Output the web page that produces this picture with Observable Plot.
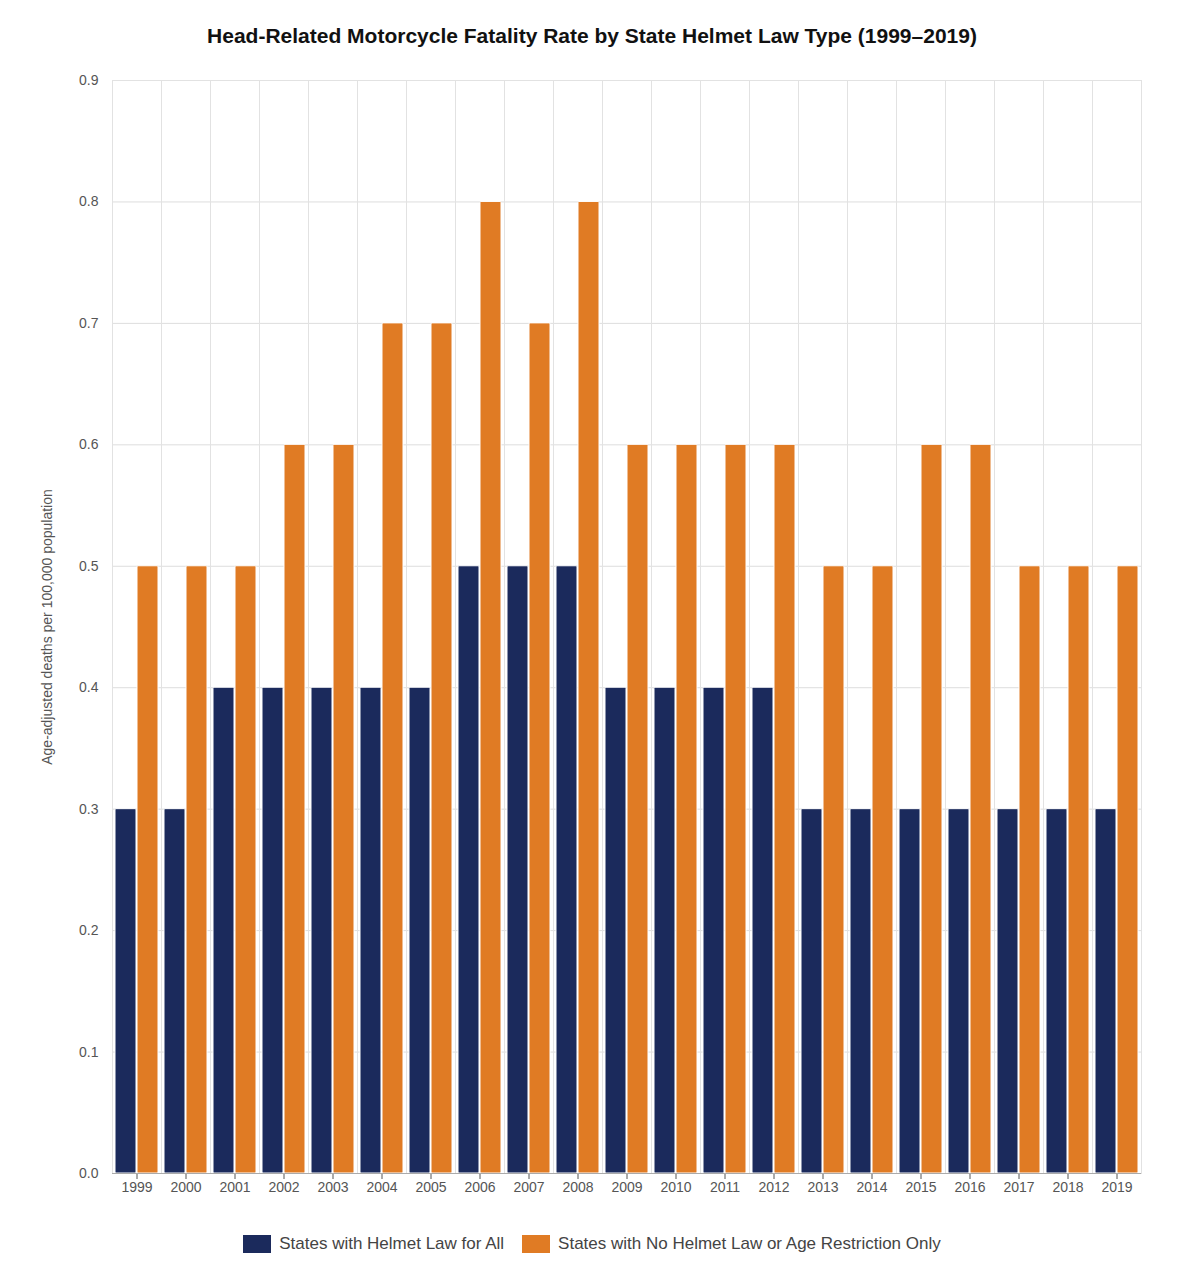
<!DOCTYPE html>
<html><head><meta charset="utf-8">
<script src="https://cdn.jsdelivr.net/npm/d3@7"></script>
<script src="https://cdn.jsdelivr.net/npm/@observablehq/plot@0.6"></script>
<style>
body{margin:0;background:#fff;font-family:"Helvetica Neue",Arial,"Liberation Sans",sans-serif;}
#title{height:60px;line-height:72px;text-align:center;font-weight:bold;font-size:21px;color:#111;}
#legend{display:flex;justify-content:center;gap:18px;font-size:17px;color:#444;margin-top:16px;}
#legend span{display:inline-flex;align-items:center;gap:8px}
#legend i{display:inline-block;width:28px;height:18px}
</style></head><body>
<div id="title">Head-Related Motorcycle Fatality Rate by State Helmet Law Type (1999–2019)</div>
<div id="chart"></div>
<div id="legend"></div>
<script>
const years=["1999","2000","2001","2002","2003","2004","2005","2006","2007","2008","2009","2010","2011","2012","2013","2014","2015","2016","2017","2018","2019"];
const seriesNames=["States with Helmet Law for All","States with No Helmet Law or Age Restriction Only"];
const helmetAll=[0.3,0.3,0.4,0.4,0.4,0.4,0.4,0.5,0.5,0.5,0.4,0.4,0.4,0.4,0.3,0.3,0.3,0.3,0.3,0.3,0.3];
const noHelmet=[0.5,0.5,0.5,0.6,0.6,0.7,0.7,0.8,0.7,0.8,0.6,0.6,0.6,0.6,0.5,0.5,0.6,0.6,0.5,0.5,0.5];
const colors=["#1b2a5c","#e07b24"];
const yTicks=[0,0.1,0.2,0.3,0.4,0.5,0.6,0.7,0.8,0.9];
const data=[];
years.forEach((y,i)=>{data.push({year:y,series:seriesNames[0],v:helmetAll[i]});data.push({year:y,series:seriesNames[1],v:noHelmet[i]});});
const chart=Plot.plot({
  width:1184,height:1158,marginTop:20,marginBottom:45,marginLeft:105,marginRight:36,
  style:{fontSize:"14px",color:"#555",fontFamily:"Helvetica Neue,Arial,Liberation Sans,sans-serif"},
  fx:{domain:years,padding:0,label:null,axis:"bottom",tickSize:6},
  x:{domain:seriesNames,paddingInner:0.06,paddingOuter:0.12,axis:null},
  y:{domain:[0,0.9],ticks:yTicks,tickFormat:d=>d.toFixed(1),label:"Age-adjusted deaths per 100,000 population",labelAnchor:"center",labelArrow:"none",labelOffset:70,tickSize:0,tickPadding:14},
  color:{domain:seriesNames,range:colors},
  marks:[
    Plot.gridY(yTicks,{stroke:"#ddd",strokeOpacity:1}),
    Plot.frame({stroke:"#e2e2e2",strokeOpacity:1}),
    Plot.barY(data,{fx:"year",x:"series",y:"v",fill:"series",stroke:"#fff",strokeWidth:1,rx:1}),
    Plot.ruleY([0],{stroke:"#aaa"})
  ]
});
document.getElementById("chart").appendChild(chart);
document.getElementById("legend").innerHTML=seriesNames.map((s,i)=>`<span><i style="background:${colors[i]}"></i>${s}</span>`).join("");
</script></body></html>
